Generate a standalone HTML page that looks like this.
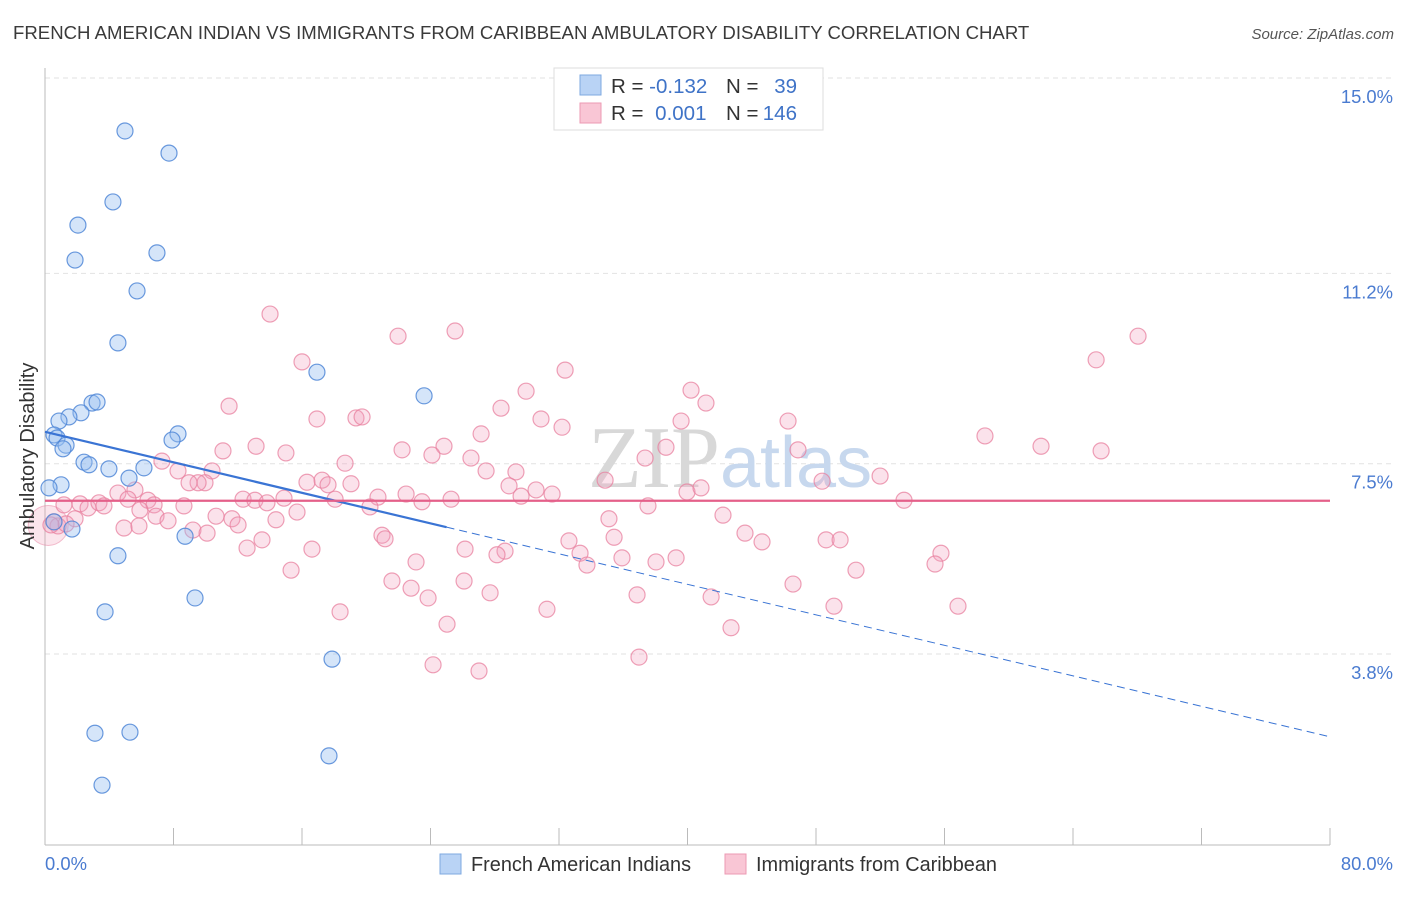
<!DOCTYPE html>
<html><head><meta charset="utf-8"><style>
body{margin:0;background:#fff;font-family:"Liberation Sans",sans-serif;}
</style></head><body>
<svg width="1406" height="892" viewBox="0 0 1406 892" xmlns="http://www.w3.org/2000/svg">
<text x="13" y="39" font-size="18.6" fill="#3a3a3a">FRENCH AMERICAN INDIAN VS IMMIGRANTS FROM CARIBBEAN AMBULATORY DISABILITY CORRELATION CHART</text>
<text x="1394" y="39" font-size="15" fill="#555" font-style="italic" text-anchor="end">Source: ZipAtlas.com</text>
<g id="grid"></g>
<g id="axes"></g>
<text x="720" y="487" font-size="88" fill="#d8d8d8" text-anchor="end" font-family="Liberation Serif,serif">ZIP</text>
<text x="720" y="487" font-size="72" fill="#c7d8ee">atlas</text>
<g id="pink"></g>
<g id="blue"></g>
<g id="trends"></g>
<text transform="translate(34,456) rotate(-90)" font-size="20" fill="#333" text-anchor="middle">Ambulatory Disability</text>
<g>
<rect x="554" y="68" width="269" height="62" fill="#fff" stroke="#ddd"/>
<rect x="580" y="75" width="21" height="20" fill="#b9d3f5" stroke="#7ea8e0"/>
<rect x="580" y="103" width="21" height="20" fill="#f9c6d5" stroke="#ec9ab3"/>
<text x="611" y="93" font-size="20.5" fill="#333">R = <tspan fill="#3f73c7">-0.132</tspan></text>
<text x="726" y="93" font-size="20.5" fill="#333">N =</text>
<text x="797" y="93" font-size="20.5" fill="#3f73c7" text-anchor="end">39</text>
<text x="611" y="120" font-size="20.5" fill="#333">R = <tspan fill="#3f73c7" dx="6">0.001</tspan></text>
<text x="726" y="120" font-size="20.5" fill="#333">N =</text>
<text x="797" y="120" font-size="20.5" fill="#3f73c7" text-anchor="end">146</text>
</g>
<g>
<rect x="440" y="854" width="21" height="20" fill="#b9d3f5" stroke="#7ea8e0"/>
<text x="471" y="871" font-size="19.9" fill="#333">French American Indians</text>
<rect x="725" y="854" width="21" height="20" fill="#f9c6d5" stroke="#ec9ab3"/>
<text x="756" y="871" font-size="19.9" fill="#333">Immigrants from Caribbean</text>
</g>
</svg>
<script>
const blueX=[4.98,7.72,4.23,2.05,1.87,6.97,5.73,4.54,16.93,23.6,2.93,3.24,2.24,1.49,0.87,0.56,0.75,1.31,1.12,8.28,7.91,2.43,2.74,3.98,6.16,5.23,1.0,0.25,1.68,8.72,4.54,9.34,3.74,17.87,3.11,5.29,17.68,3.55,0.56];
const blueY=[13.97,13.54,12.59,12.14,11.46,11.60,10.86,9.85,9.28,8.82,8.68,8.70,8.49,8.41,8.33,8.06,8.00,7.86,7.79,8.08,7.96,7.53,7.48,7.40,7.42,7.22,7.09,7.03,6.23,6.09,5.71,4.89,4.62,3.70,2.26,2.28,1.82,1.25,6.37];
const pinkX=[14.01,25.53,21.98,68.05,65.44,16.0,32.38,29.95,40.22,41.15,28.39,11.46,19.36,19.74,16.93,30.88,39.6,46.26,32.19,27.15,58.52,62.01,65.75,24.84,22.23,13.14,11.08,38.66,46.88,15.0,24.09,26.52,37.36,7.28,10.40,18.68,27.46,29.32,8.28,34.87,48.38,51.99,9.96,9.53,8.97,16.31,17.25,17.62,19.05,28.89,30.57,39.97,40.84,31.57,4.54,5.60,12.33,13.07,14.88,18.06,20.73,22.48,23.47,25.28,29.64,53.48,6.41,6.79,1.18,2.18,2.68,3.36,3.67,5.17,5.91,8.65,13.82,20.23,15.69,10.65,6.91,37.54,42.21,35.11,11.64,1.87,0.56,0.81,1.31,4.92,5.85,7.66,9.21,10.09,12.02,14.38,20.98,21.17,13.51,12.58,32.62,35.43,43.58,44.64,48.63,49.5,16.62,26.15,28.64,28.14,33.31,35.92,38.04,39.29,23.1,33.74,55.78,55.41,15.32,50.49,21.6,26.09,22.79,27.71,23.85,36.86,41.47,46.57,18.37,31.25,49.12,56.84,25.03,42.71,36.98,24.16,27.02,0.37];
const pinkY=[10.41,10.08,9.98,9.98,9.52,9.48,9.32,8.91,8.93,8.68,8.58,8.62,8.39,8.41,8.37,8.37,8.33,8.33,8.21,8.08,8.04,7.84,7.75,7.84,7.77,7.84,7.75,7.82,7.77,7.71,7.67,7.61,7.61,7.55,7.36,7.51,7.36,7.34,7.36,7.18,7.16,7.26,7.13,7.13,7.13,7.14,7.18,7.09,7.11,7.07,6.99,6.95,7.03,6.91,6.93,6.99,6.81,6.79,6.83,6.81,6.85,6.91,6.76,6.81,6.87,6.79,6.79,6.70,6.70,6.72,6.64,6.74,6.68,6.81,6.60,6.68,6.74,6.66,6.56,6.48,6.48,6.68,6.50,6.43,6.43,6.43,6.37,6.29,6.33,6.25,6.29,6.39,6.21,6.15,6.31,6.41,6.11,6.04,6.02,5.86,6.0,6.07,6.15,5.98,6.02,6.02,5.84,5.84,5.80,5.73,5.76,5.67,5.59,5.67,5.59,5.53,5.76,5.55,5.43,5.43,5.22,5.22,5.08,4.99,4.89,4.95,4.91,5.16,4.62,4.67,4.73,4.73,4.38,4.31,3.74,3.59,3.47,6.31];
const yTicks=[15.0,11.2,7.5,3.8];
const yTickLabels=["15.0%","11.2%","7.5%","3.8%"];
const xEndLabels=["0.0%","80.0%"];
const blueTrend=[8.12,2.19];
const pinkTrend=[6.78,6.78];
const blueSolidEnd=25;

const NS="http://www.w3.org/2000/svg";
const X0=45,X1=1330,Y15=78,PPU=51.43;
function sx(v){return X0+(X1-X0)*v/80;}
function sy(v){return Y15+(15-v)*PPU;}
function mk(tag,attrs,parent){const e=document.createElementNS(NS,tag);for(const k in attrs)e.setAttribute(k,attrs[k]);parent.appendChild(e);return e;}

const grid=document.getElementById('grid');
yTicks.forEach((t,i)=>{
  const l=mk('line',{x1:X0,x2:1394,y1:sy(t),y2:sy(t),stroke:'#e2e2e2','stroke-dasharray':'5,4'},grid);
  
  
  const tx=mk('text',{x:1393,y:sy(t)+25,'font-size':18.4,fill:'#4a7bd0','text-anchor':'end'},grid);
  tx.textContent=yTickLabels[i];
  
  
});
const axes=document.getElementById('axes');
let a=mk('line',{x1:X0,x2:X0,y1:68,y2:845,stroke:'#bbb'},axes);


a=mk('line',{x1:X0,x2:1330,y1:845,y2:845,stroke:'#bbb'},axes);


for(let i=0;i<=10;i++){
  const t=mk('line',{x1:sx(i*8),x2:sx(i*8),y1:828,y2:845,stroke:'#bbb'},axes);
  
  
}
let lx=mk('text',{x:45,y:870,'font-size':18.4,fill:'#4a7bd0'},axes);lx.textContent=xEndLabels[0];


lx=mk('text',{x:1393,y:870,'font-size':18.4,fill:'#4a7bd0','text-anchor':'end'},axes);lx.textContent=xEndLabels[1];



const pink=document.getElementById('pink');
let big=mk('circle',{cx:sx(0.2),cy:sy(6.3),r:20,fill:'rgba(240,150,180,0.25)',stroke:'rgba(232,128,159,0.5)'},pink);


pinkX.forEach((x,i)=>{
  const c=mk('circle',{cx:sx(x),cy:sy(pinkY[i]),r:8,fill:'rgba(242,160,188,0.3)',stroke:'rgba(232,128,159,0.75)','stroke-width':1.2},pink);
  
  
});
const blue=document.getElementById('blue');
blueX.forEach((x,i)=>{
  const c=mk('circle',{cx:sx(x),cy:sy(blueY[i]),r:8,fill:'rgba(150,190,240,0.4)',stroke:'rgba(80,135,215,0.85)','stroke-width':1.2},blue);
  
  
});
const tr=document.getElementById('trends');
function by(x){return blueTrend[0]+(blueTrend[1]-blueTrend[0])*x/80;}
let t=mk('line',{x1:sx(0),y1:sy(by(0)),x2:sx(blueSolidEnd),y2:sy(by(blueSolidEnd)),stroke:'#3a74d4','stroke-width':2.2},tr);


t=mk('line',{x1:sx(blueSolidEnd),y1:sy(by(blueSolidEnd)),x2:sx(80),y2:sy(by(80)),stroke:'#3a74d4','stroke-width':1,'stroke-dasharray':'8,5'},tr);


t=mk('line',{x1:sx(0),y1:sy(pinkTrend[0]),x2:sx(80),y2:sy(pinkTrend[1]),stroke:'#e4608a','stroke-width':2.2},tr);


</script>
</body></html>
